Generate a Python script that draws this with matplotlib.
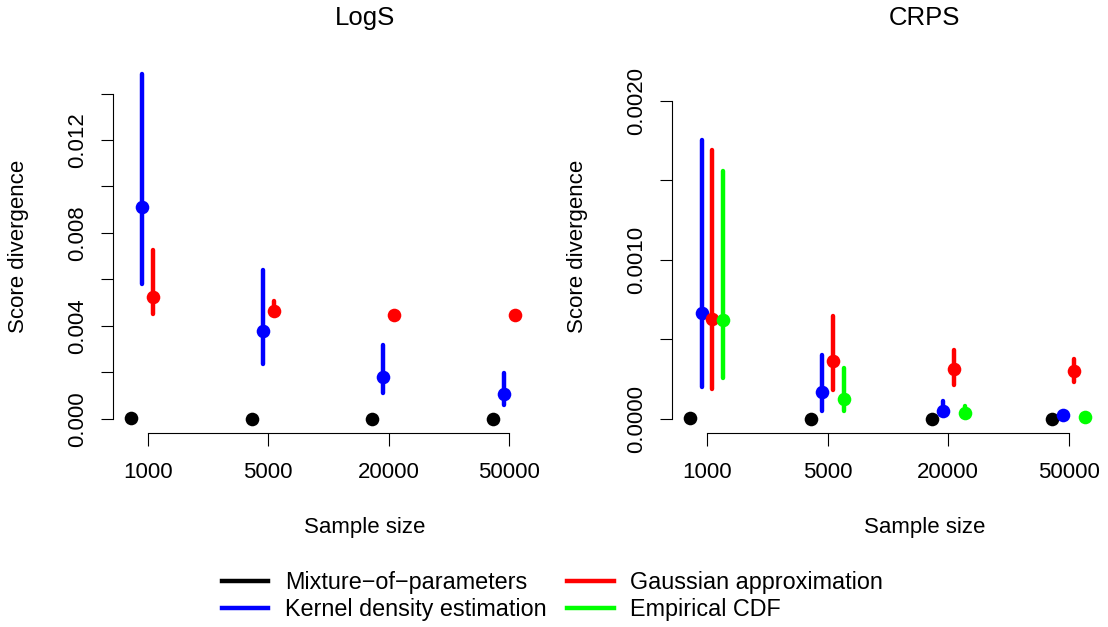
"""Score divergence of four approximation methods by sample size, LogS and CRPS."""

import matplotlib

matplotlib.use("Agg")
import matplotlib.pyplot as plt
from matplotlib.lines import Line2D
from matplotlib.ticker import FixedLocator, FuncFormatter

plt.rcParams["font.family"] = ["Liberation Sans", "DejaVu Sans"]

sample_sizes = ["1000", "5000", "20000", "50000"]
method_names = [
    "Mixture\u2212of\u2212parameters",
    "Kernel density estimation",
    "Gaussian approximation",
    "Empirical CDF",
]
method_colors = ["#000000", "#0000ff", "#ff0000", "#00ff00"]
method_offsets = [-0.137, -0.045, 0.045, 0.137]

# LogS: mixture, kde, gaussian (no empirical CDF for the log score)
logs_mid = [
    [0.00005, 0.00001, 0.00001, 0.00001],
    [0.00913, 0.00378, 0.00182, 0.00106],
    [0.00526, 0.00462, 0.00447, 0.00446],
]
logs_lo = [
    [0.00005, 0.00001, 0.00001, 0.00001],
    [0.00579, 0.00237, 0.00110, 0.00060],
    [0.00452, 0.00445, 0.00442, 0.00442],
]
logs_hi = [
    [0.00005, 0.00001, 0.00001, 0.00001],
    [0.01484, 0.00641, 0.00318, 0.00197],
    [0.00727, 0.00505, 0.00452, 0.00450],
]

# CRPS: mixture, kde, gaussian, empirical CDF
crps_mid = [
    [0.000008, 0.000001, 0.000001, 0.000001],
    [0.000664, 0.000167, 0.000052, 0.000025],
    [0.000628, 0.000364, 0.000312, 0.000302],
    [0.000622, 0.000126, 0.000036, 0.000015],
]
crps_lo = [
    [0.000008, 0.000001, 0.000001, 0.000001],
    [0.000199, 0.000050, 0.000040, 0.000020],
    [0.000187, 0.000182, 0.000214, 0.000234],
    [0.000260, 0.000050, 0.000020, 0.000010],
]
crps_hi = [
    [0.000008, 0.000001, 0.000001, 0.000001],
    [0.001752, 0.000402, 0.000115, 0.000030],
    [0.001690, 0.000647, 0.000433, 0.000375],
    [0.001558, 0.000318, 0.000084, 0.000020],
]

W, H = 1108, 627
fig = plt.figure(figsize=(W / 100, H / 100), dpi=100)

FS = 16
INK = "#000000"


def px_axes(left_px):
    return fig.add_axes(
        [left_px / W, (H - 432.5) / H, 431.6 / W, 372.2 / H]
    )


def draw_panel(ax, title, mids, los, his, ylim, yticks, ylabels):
    xs = range(1, len(sample_sizes) + 1)
    for j, (mid, lo, hi) in enumerate(zip(mids, los, his)):
        xpos = [x + method_offsets[j] for x in xs]
        ax.vlines(xpos, lo, hi, colors=method_colors[j], linewidth=3.2,
                  capstyle="round", zorder=2)
        ax.plot(xpos, mid, "o", ms=9.8, color=method_colors[j],
                markeredgewidth=0, zorder=3)

    ax.set_xlim(0.71, 4.29)
    ax.set_ylim(*ylim)
    for side in ("top", "right"):
        ax.spines[side].set_visible(False)
    for side in ("left", "bottom"):
        ax.spines[side].set_linewidth(0.8)
        ax.spines[side].set_color(INK)
    ax.spines["bottom"].set_bounds(1, 4)
    ax.spines["left"].set_bounds(yticks[0], yticks[-1])

    ax.set_xticks(list(xs))
    ax.set_xticklabels(sample_sizes, fontsize=FS)
    ax.yaxis.set_major_locator(FixedLocator(yticks))
    ax.yaxis.set_major_formatter(
        FuncFormatter(lambda v, _: next((s for t, s in ylabels if abs(t - v) < 1e-9), ""))
    )
    ax.tick_params(axis="both", length=9, width=0.8, color=INK, labelsize=FS)
    ax.tick_params(axis="x", pad=12)
    ax.tick_params(axis="y", pad=9)
    for lbl in ax.get_yticklabels():
        lbl.set_rotation(90)
        lbl.set_va("center")
        lbl.set_ha("right")

    ax.set_ylabel("Score divergence", fontsize=FS)
    ax.yaxis.set_label_coords(-0.195, 0.5)
    ax.text(0.585, (432.5 - 533.3) / 372.2, "Sample size", fontsize=FS,
            ha="center", va="baseline", transform=ax.transAxes)
    ax.text(0.585, (432.5 - 25) / 372.2, title, fontsize=18.5,
            ha="center", va="baseline", transform=ax.transAxes)


ax_logs = px_axes(112.7)
draw_panel(
    ax_logs, "LogS", logs_mid, logs_lo, logs_hi,
    (-0.00059, 0.01543),
    [0.0, 0.002, 0.004, 0.006, 0.008, 0.010, 0.012, 0.014],
    [(0.0, "0.000"), (0.004, "0.004"), (0.008, "0.008"), (0.012, "0.012")],
)

ax_crps = px_axes(672.0)
draw_panel(
    ax_crps, "CRPS", crps_mid, crps_lo, crps_hi,
    (-0.0000848, 0.002253),
    [0.0, 0.0005, 0.0010, 0.0015, 0.0020],
    [(0.0, "0.0000"), (0.0010, "0.0010"), (0.0020, "0.0020")],
)

handles = [Line2D([], [], color=c, linewidth=3.2) for c in method_colors]
fig.legend(
    handles, method_names, loc="center", ncol=2, frameon=False,
    bbox_to_anchor=(552.5 / W, 1 - 596 / H), fontsize=16.8,
    handlelength=2.0, handletextpad=0.7, columnspacing=0.9,
    labelspacing=0.15, borderpad=0,
)

fig.savefig("out.png", dpi=100)
